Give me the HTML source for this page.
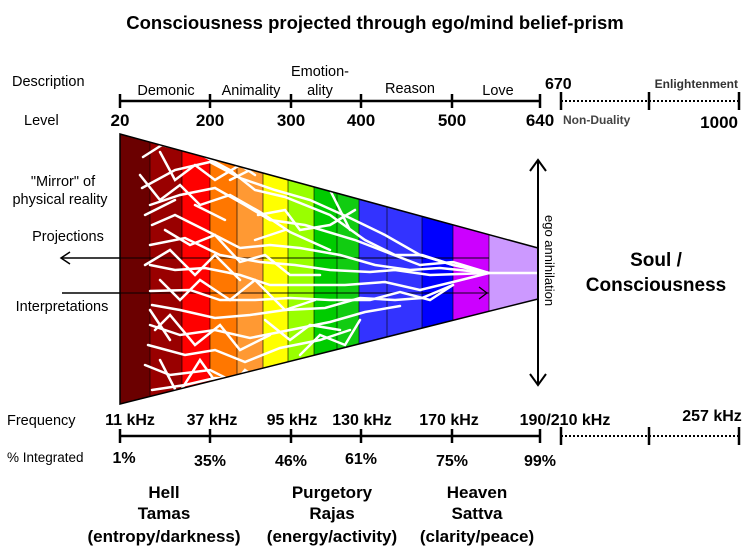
<!DOCTYPE html>
<html><head><meta charset="utf-8"><style>
body{margin:0;background:#fff}
svg{display:block}
text{font-family:"Liberation Sans",Arial,sans-serif;fill:#000}
.b{font-weight:bold}
</style></head><body>
<svg width="750" height="550" viewBox="0 0 750 550" xmlns="http://www.w3.org/2000/svg">
<defs><clipPath id="cone"><polygon points="120,134 538,248 538,299 120,404"/></clipPath></defs>
<text x="375" y="29" text-anchor="middle" class="b" font-size="18.5">Consciousness projected through ego/mind belief-prism</text>
<text x="12" y="86" font-size="14.5">Description</text>
<g font-size="14.5" text-anchor="middle">
<text x="166" y="95">Demonic</text>
<text x="251" y="95">Animality</text>
<text x="320" y="76">Emotion-</text>
<text x="320" y="95">ality</text>
<text x="410" y="93">Reason</text>
<text x="498" y="95">Love</text>
</g>
<text x="545" y="89" class="b" font-size="16">670</text>
<text x="738" y="88" text-anchor="end" class="b" font-size="12" style="fill:#333">Enlightenment</text>
<line x1="120" y1="101" x2="540" y2="101" stroke="#000" stroke-width="2.5"/>
<g stroke="#000" stroke-width="2.5">
<line x1="120" y1="94" x2="120" y2="108"/><line x1="210" y1="94" x2="210" y2="108"/><line x1="291" y1="94" x2="291" y2="108"/><line x1="361" y1="94" x2="361" y2="108"/><line x1="452" y1="94" x2="452" y2="108"/><line x1="540" y1="94" x2="540" y2="108"/>
<line x1="561" y1="92" x2="561" y2="110"/><line x1="649" y1="92" x2="649" y2="110"/><line x1="739" y1="92" x2="739" y2="110"/>
</g>
<line x1="561" y1="101" x2="739" y2="101" stroke="#000" stroke-width="2" stroke-dasharray="2,2"/>
<text x="24" y="125" font-size="14.5">Level</text>
<g class="b" font-size="17" text-anchor="middle">
<text x="120" y="126">20</text><text x="210" y="126">200</text><text x="291" y="126">300</text><text x="361" y="126">400</text><text x="452" y="126">500</text><text x="540" y="126">640</text><text x="738" y="128" text-anchor="end">1000</text>
</g>
<text x="563" y="124" class="b" font-size="12" style="fill:#444">Non-Duality</text>

<g clip-path="url(#cone)">
<rect x="120" y="130" width="30" height="280" fill="#6b0000"/>
<rect x="150" y="130" width="32" height="280" fill="#990000"/>
<rect x="182" y="130" width="28" height="280" fill="#ff0000"/>
<rect x="210" y="130" width="27" height="280" fill="#ff7700"/>
<rect x="237" y="130" width="26" height="280" fill="#ff9933"/>
<rect x="263" y="130" width="25" height="280" fill="#ffff00"/>
<rect x="288" y="130" width="26" height="280" fill="#99ff00"/>
<rect x="314" y="130" width="23" height="280" fill="#00cc00"/>
<rect x="337" y="130" width="22" height="280" fill="#11cc11"/>
<rect x="359" y="130" width="28" height="280" fill="#3333ff"/>
<rect x="387" y="130" width="35" height="280" fill="#3333ff"/>
<rect x="422" y="130" width="31" height="280" fill="#0000ff"/>
<rect x="453" y="130" width="36" height="280" fill="#cc00ff"/>
<rect x="489" y="130" width="50" height="280" fill="#cc99ff"/>
<g stroke="#000" stroke-width="1" opacity="0.6">
<line x1="150" y1="130" x2="150" y2="410"/><line x1="182" y1="130" x2="182" y2="410"/><line x1="210" y1="130" x2="210" y2="410"/><line x1="237" y1="130" x2="237" y2="410"/><line x1="263" y1="130" x2="263" y2="410"/><line x1="288" y1="130" x2="288" y2="410"/><line x1="314" y1="130" x2="314" y2="410"/><line x1="337" y1="130" x2="337" y2="410"/><line x1="359" y1="130" x2="359" y2="410"/><line x1="387" y1="130" x2="387" y2="410"/><line x1="422" y1="130" x2="422" y2="410"/><line x1="453" y1="130" x2="453" y2="410"/><line x1="489" y1="130" x2="489" y2="410"/>
</g>
<line x1="120" y1="258" x2="489" y2="258" stroke="#000" stroke-width="1.5" opacity="0.6"/>
<line x1="120" y1="293" x2="489" y2="293" stroke="#000" stroke-width="1.5" opacity="0.6"/>
<g stroke="#fff" stroke-width="2.5" fill="none" stroke-linecap="round">
<polyline points="143,157 162,145 200,154 230,170 255,190 285,197 330,215 365,240 395,255 422,255 453,265 489,273 540,273"/>
<polyline points="142,188 175,170 210,162 240,178 275,190 310,200 350,218 385,235 420,255 453,265"/>
<polyline points="150,205 180,195 215,188 245,205 270,220 305,225 355,240 386,252 420,265 453,262 489,273"/>
<polyline points="152,225 175,215 205,230 240,248 270,245 300,248 340,255 375,265 410,270 440,268 489,273"/>
<polyline points="150,245 185,238 220,255 260,262 295,265 330,270 370,272 395,270 430,275 489,273"/>
<polyline points="150,265 175,270 205,268 240,275 270,285 305,285 345,285 385,282 420,290 453,282 489,273"/>
<polyline points="150,291 190,290 220,300 255,300 290,298 330,300 370,300 400,292 430,300 453,285"/>
<polyline points="152,305 180,310 215,318 250,315 285,310 325,308 360,298 395,300 422,298 453,285"/>
<polyline points="150,325 180,335 215,330 250,338 290,330 330,322 365,312 400,306"/>
<polyline points="148,345 185,355 215,350 245,362 280,348 320,340 350,330"/>
<polyline points="145,365 170,375 210,370 240,385 265,372 300,365 330,355"/>
<polyline points="152,390 185,385 215,378 245,380 275,378"/>
<polyline points="140,175 160,200 180,185 200,205 230,195 260,212 290,232 330,250"/>
<polyline points="160,152 175,180 195,165 215,180 240,165 255,175"/>
<polyline points="165,230 190,245 215,235 240,262 265,255 290,275 320,275"/>
<polyline points="160,280 180,300 200,280 230,300 255,280 285,310 315,300"/>
<polyline points="155,330 170,315 195,345 220,325 240,350 270,335"/>
<polyline points="160,360 178,395 200,360 225,395 245,370 265,385"/>
<polyline points="145,265 170,250 195,275 215,255 240,280"/>
<polyline points="230,180 260,165 290,175 310,160 325,185"/>
<polyline points="258,215 285,210 300,230 330,225 355,210"/>
<polyline points="300,355 320,335 345,345 360,320"/>
<polyline points="265,320 290,340 310,325 340,330"/>
<line x1="145" y1="215" x2="175" y2="200"/><line x1="150" y1="310" x2="170" y2="340"/><line x1="195" y1="205" x2="225" y2="220"/>
<line x1="330" y1="190" x2="350" y2="230"/><line x1="255" y1="240" x2="285" y2="230"/>
</g>
</g>
<polygon points="120,134 538,248 538,299 120,404" fill="none" stroke="#000" stroke-width="1.5"/>

<line x1="62" y1="258" x2="120" y2="258" stroke="#000" stroke-width="1.5"/>
<polyline points="70,252 61,258 70,264" fill="none" stroke="#000" stroke-width="1.5"/>
<line x1="62" y1="293" x2="120" y2="293" stroke="#000" stroke-width="1.5"/>
<polyline points="479,287 487,293 479,299" fill="none" stroke="#000" stroke-width="1.2"/>
<line x1="538" y1="160" x2="538" y2="385" stroke="#000" stroke-width="2"/>
<polyline points="530,171 538,160 546,171" fill="none" stroke="#000" stroke-width="2"/>
<polyline points="530,374 538,385 546,374" fill="none" stroke="#000" stroke-width="2"/>
<text transform="translate(545,215) rotate(90)" font-size="13">ego annihilation</text>

<g font-size="14.5" text-anchor="middle">
<text x="63" y="186">"Mirror" of</text>
<text x="60" y="204">physical reality</text>
<text x="68" y="241">Projections</text>
<text x="62" y="311">Interpretations</text>
</g>
<text x="656" y="266" text-anchor="middle" class="b" font-size="19">Soul /</text>
<text x="656" y="291" text-anchor="middle" class="b" font-size="19">Consciousness</text>

<text x="7" y="425" font-size="14.5">Frequency</text>
<g class="b" font-size="16" text-anchor="middle">
<text x="130" y="425">11 kHz</text><text x="212" y="425">37 kHz</text><text x="292" y="425">95 kHz</text><text x="362" y="425">130 kHz</text><text x="449" y="425">170 kHz</text><text x="565" y="425">190/210 kHz</text><text x="712" y="421">257 kHz</text>
</g>
<line x1="120" y1="436" x2="540" y2="436" stroke="#000" stroke-width="2.5"/>
<g stroke="#000" stroke-width="2.5">
<line x1="120" y1="429" x2="120" y2="443"/><line x1="210" y1="429" x2="210" y2="443"/><line x1="291" y1="429" x2="291" y2="443"/><line x1="361" y1="429" x2="361" y2="443"/><line x1="452" y1="429" x2="452" y2="443"/><line x1="540" y1="429" x2="540" y2="443"/>
<line x1="561" y1="427" x2="561" y2="445"/><line x1="649" y1="427" x2="649" y2="445"/><line x1="739" y1="427" x2="739" y2="445"/>
</g>
<line x1="561" y1="436" x2="739" y2="436" stroke="#000" stroke-width="2" stroke-dasharray="2,2"/>
<text x="7" y="462" font-size="13.5">% Integrated</text>
<g class="b" font-size="16" text-anchor="middle">
<text x="124" y="463">1%</text><text x="210" y="466">35%</text><text x="291" y="466">46%</text><text x="361" y="464">61%</text><text x="452" y="466">75%</text><text x="540" y="466">99%</text>
</g>
<g class="b" font-size="17" text-anchor="middle">
<text x="164" y="498">Hell</text><text x="164" y="519">Tamas</text><text x="164" y="542">(entropy/darkness)</text>
<text x="332" y="498">Purgetory</text><text x="332" y="519">Rajas</text><text x="332" y="542">(energy/activity)</text>
<text x="477" y="498">Heaven</text><text x="477" y="519">Sattva</text><text x="477" y="542">(clarity/peace)</text>
</g>
</svg>
</body></html>
